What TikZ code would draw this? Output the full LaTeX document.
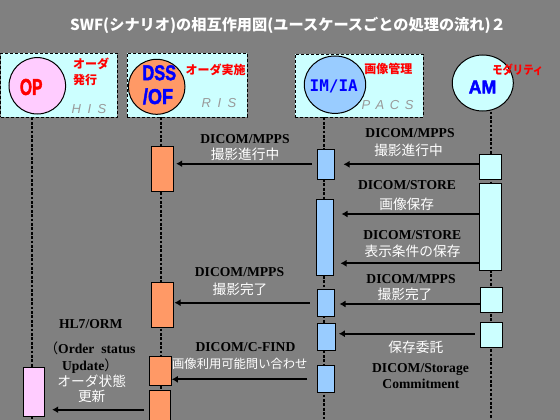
\documentclass[tikz,border=0pt]{standalone}
\usepackage{fontspec}
\usepackage{graphicx}
\setmainfont{Liberation Serif}
\newfontfamily\jpf{Noto Sans CJK JP}
\newfontfamily\sansf{Liberation Sans}
\newfontfamily\heavyf{Liberation Sans}[BoldFeatures={FakeBold=2.2}]
\newfontfamily\monof{DejaVu Sans Mono}
\usetikzlibrary{arrows.meta,shapes.geometric}
\definecolor{bggray}{HTML}{808080}
\definecolor{sysc}{HTML}{CCFFFF}
\definecolor{orangec}{HTML}{FF9966}
\definecolor{bluec}{HTML}{99CCFF}
\definecolor{pinkc}{HTML}{FFCCFF}
\definecolor{tagred}{HTML}{FF0000}
\definecolor{tagblue}{HTML}{0000FF}
\definecolor{sysgray}{HTML}{999999}
\tikzset{
  sysbox/.style={draw=black, line width=0.9pt, dash pattern=on 3pt off 2pt, fill=sysc, inner sep=0},
  actor/.style={ellipse, draw=black, line width=1pt, inner sep=0},
  lifeline/.style={line width=2.7pt, dash pattern=on 2.7pt off 1.7pt},
  act/.style={draw=black, line width=1pt, inner sep=0},
  msg/.style={line width=2.3pt, -{Latex[length=6pt,width=7pt]}},
  lat/.style={font=\bfseries\fontsize{13.6}{15}\selectfont, text=black, inner sep=0, text height=9pt, text depth=0pt},
  jpw/.style={font=\jpf\fontsize{13.7}{15}\selectfont, text=white, inner sep=0, text height=10.4pt, text depth=0pt},
  tag/.style={font=\jpf\bfseries\fontsize{12}{14}\selectfont, text=tagred, inner sep=0, text height=9.1pt, text depth=0pt},
  sysname/.style={font=\sansf\itshape\fontsize{13}{14}\selectfont, text=sysgray, inner sep=0, text height=9.3pt, text depth=0pt},
  big/.style={inner sep=0, text depth=0pt}
}
\begin{document}
\begin{tikzpicture}[x=1pt,y=-1pt]
\fill[bggray] (0,0) rectangle (560,420);
\useasboundingbox (0,0) rectangle (560,420);
\clip (0,0) rectangle (560,420);

% title
\node[font=\jpf\bfseries\fontsize{15.2}{17}\selectfont, text=white, inner sep=0] (title) at (288,25) {SWF(シナリオ)の相互作用図(ユースケースごとの処理の流れ)２};

% system boxes
\node[sysbox, minimum width=116.5pt, minimum height=64pt] (HISbox) at (58.75,85) {};
\node[sysbox, minimum width=120pt, minimum height=64pt] (RISbox) at (187,85) {};
\node[sysbox, minimum width=128pt, minimum height=63pt] (PACSbox) at (359,85.5) {};

% lifelines
\coordinate (L1) at (32,430);
\coordinate (L2) at (161,430);
\coordinate (L3) at (324,430);
\coordinate (L4) at (491,430);
\draw[lifeline] (HISbox.south -| L1) -- (L1);
\draw[lifeline] (RISbox.south -| L2) -- (L2);
\draw[lifeline] (PACSbox.south -| L3) -- (L3);

% actors
\node[actor, fill=pinkc, minimum width=56.6pt, minimum height=56.4pt] (OP) at (37.3,85.8) {};
\node[actor, fill=orangec, minimum width=56.6pt, minimum height=55pt] (DSS) at (156.7,86.8) {};
\node[actor, fill=bluec, minimum width=61.4pt, minimum height=57.4pt] (IM) at (335,84.7) {};
\node[actor, fill=sysc, minimum width=61pt, minimum height=56pt] (AM) at (482.8,83) {};
\draw[lifeline] (AM.south -| L4) -- (L4);

\node[big, text=tagred, font=\heavyf\bfseries\fontsize{23}{24}\selectfont, text height=16.5pt] (OPt) at (31.2,86.7) {\scalebox{0.68}[1]{OP}};
\node[big, text=tagblue, font=\heavyf\bfseries\fontsize{21.5}{22}\selectfont, text height=15.4pt] (DSSt) at (159.3,72.5) {\scalebox{0.76}[1]{DSS}};
\node[big, text=tagblue, font=\heavyf\bfseries\fontsize{21.5}{22}\selectfont, text height=15.4pt] (OFt) at (158,96.3) {\scalebox{0.84}[1]{/OF}};
\node[big, text=tagblue, font=\monof\bfseries\fontsize{16}{17}\selectfont, text height=11.7pt] (IMt) at (333.8,86) {IM/IA};
\node[big, text=tagblue, font=\heavyf\bfseries\fontsize{18.6}{19}\selectfont, text height=13.3pt] (AMt) at (482.5,86.7) {\scalebox{0.95}[1]{AM}};

% red tags
\node[tag, anchor=west] (t1a) at (73,63.8) {オーダ};
\node[tag, anchor=west] (t1b) at (73,80) {発行};
\node[tag] (t2) at (215.5,70.3) {オーダ実施};
\node[tag] (t3) at (388.3,68.7) {画像管理};
\node[tag] (t4) at (517.8,70.3) {\scalebox{0.86}[1]{モダリティ}};

% system names
\node[sysname] (nHIS) at (89,108.7) {H\hspace{6.5pt}I\hspace{6.5pt}S};
\node[sysname] (nRIS) at (219,103.3) {R\hspace{6.5pt}I\hspace{6.5pt}S};
\node[sysname] (nPACS) at (387.5,105.3) {P\hspace{5.5pt}A\hspace{5.5pt}C\hspace{5.5pt}S};

% activation boxes
\node[act, fill=orangec, minimum width=22pt, minimum height=45pt] (A1) at (162,168.5) {};
\node[act, fill=orangec, minimum width=22pt, minimum height=45pt] (A2) at (162,304.5) {};
\node[act, fill=orangec, minimum width=22pt, minimum height=29pt] (A3) at (160,370.5) {};
\node[act, fill=orangec, minimum width=21pt, minimum height=40pt] (A4) at (159.5,410) {};
\node[act, fill=pinkc, minimum width=21pt, minimum height=49pt] (H1) at (33.5,391.5) {};
\node[act, fill=bluec, minimum width=17pt, minimum height=30pt] (P1) at (325.5,164) {};
\node[act, fill=bluec, minimum width=17pt, minimum height=76pt] (P2) at (324.5,237) {};
\node[act, fill=bluec, minimum width=17pt, minimum height=27pt] (P3) at (325.5,302.5) {};
\node[act, fill=bluec, minimum width=18pt, minimum height=27pt] (P4) at (326,336.5) {};
\node[act, fill=bluec, minimum width=17pt, minimum height=27pt] (P5) at (325.5,378.5) {};
\node[act, fill=sysc, minimum width=22pt, minimum height=25pt] (M1) at (490,166.5) {};
\node[act, fill=sysc, minimum width=22pt, minimum height=87pt] (M2) at (490,226.5) {};
\node[act, fill=sysc, minimum width=22pt, minimum height=25pt] (M3) at (491,299.5) {};
\node[act, fill=sysc, minimum width=22pt, minimum height=25pt] (M4) at (491,334.5) {};

% message levels
\coordinate (ya1) at (0,164.3);
\coordinate (yb1) at (0,163.7);
\coordinate (ya2) at (0,214);
\coordinate (ya3) at (0,263.3);
\coordinate (ya4) at (0,304);
\coordinate (yb2) at (0,302.7);
\coordinate (ya5) at (0,333.7);
\coordinate (yb3) at (0,379.3);
\coordinate (yh1) at (0,409.7);

% messages
\draw[msg, shorten >=9pt] (M1.west |- ya1) -- (P1.east |- ya1);
\draw[msg, shorten <=5pt, shorten >=2.7pt] (P1.west |- yb1) -- (A1.east |- yb1);
\draw[msg, shorten >=8pt] (M2.west |- ya2) -- (P2.east |- ya2);
\draw[msg, shorten >=7pt] (M2.west |- ya3) -- (P2.east |- ya3);
\draw[msg, shorten >=5pt] (M3.west |- ya4) -- (P3.east |- ya4);
\draw[msg, shorten <=7pt, shorten >=1pt] (P3.west |- yb2) -- (A2.east |- yb2);
\draw[msg, shorten <=5pt, shorten >=3.3pt] (M4.west |- ya5) -- (P4.east |- ya5);
\draw[msg, shorten <=9.3pt, shorten >=0.3pt] (P5.west |- yb3) -- (A3.east |- yb3);
\draw[msg, shorten <=5pt, shorten >=7.7pt] (A4.west |- yh1) -- (H1.east |- yh1);

% labels
\node[lat] (l1a) at (245,139) {DICOM/MPPS};
\node[jpw] (l1b) at (245,154.3) {撮影進行中};
\node[lat] (l2a) at (410,133.3) {DICOM/MPPS};
\node[jpw] (l2b) at (408.5,150) {撮影進行中};
\node[lat] (l3a) at (407,185) {DICOM/STORE};
\node[jpw] (l3b) at (406.7,204.3) {画像保存};
\node[lat] (l4a) at (412.3,235) {DICOM/STORE};
\node[jpw] (l4b) at (412.5,251.7) {表示条件の保存};
\node[lat] (l5a) at (239.5,271.5) {DICOM/MPPS};
\node[jpw] (l5b) at (240,289.3) {撮影完了};
\node[lat] (l6a) at (411,279) {DICOM/MPPS};
\node[jpw] (l6b) at (405,294.3) {撮影完了};
\node[jpw] (l7) at (415.8,347.3) {保存委託};
\node[lat] (l8a) at (420.5,368.3) {DICOM/Storage};
\node[lat] (l8b) at (421,384.3) {Commitment};
\node[lat] (l9a) at (245.5,347.3) {DICOM/C-FIND};
\node[jpw, font=\jpf\fontsize{12.3}{14}\selectfont, text height=9.4pt] (l9b) at (239.8,363.3) {画像利用可能問い合わせ};
\node[lat] (l10a) at (90.8,324) {HL7/ORM};
\node[lat] (l10b) at (90,349) {{\jpf\mdseries （}Order\hspace{7pt}status};
\node[lat] (l10c) at (90,366) {Update{\jpf\mdseries ）}};
\node[jpw] (l10d) at (91.7,381) {オーダ状態};
\node[jpw] (l10e) at (91.7,396) {更新};
\end{tikzpicture}
\end{document}
